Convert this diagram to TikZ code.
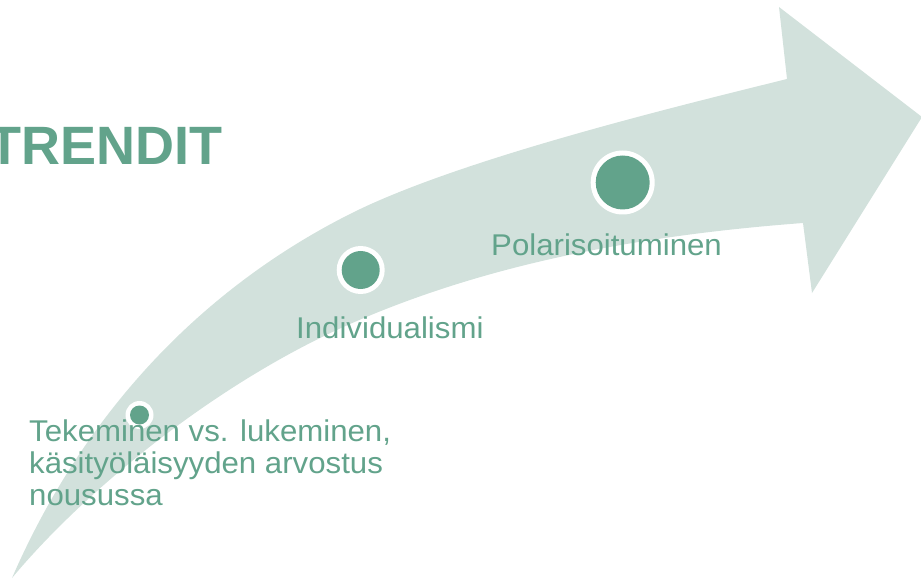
\documentclass[tikz,border=0pt]{standalone}
\usepackage{fontspec}
\setmainfont{Liberation Sans}
\newfontfamily\bodyfont[FakeStretch=1.04]{Liberation Sans}
\definecolor{arrowfill}{HTML}{D2E1DC}
\definecolor{dotfill}{HTML}{62A38B}
\definecolor{txtgreen}{HTML}{62A38B}
\tikzset{
  dotring/.style={circle, fill=white, inner sep=0pt},
  dotcore/.style={circle, fill=dotfill, inner sep=0pt},
  label text/.style={anchor=base west, inner sep=0pt, text=txtgreen, font=\bodyfont\fontsize{30}{32.4}\selectfont},
}
\begin{document}
\begin{tikzpicture}[x=1pt,y=-1pt]
\useasboundingbox (0,0) rectangle (921,580);
% big curved arrow
\coordinate (tail) at (12,578);
\coordinate (topmid) at (350,214);
\coordinate (topin) at (787,79);
\coordinate (barbtop) at (779,7);
\coordinate (tip) at (922,117);
\coordinate (barbbot) at (812,293);
\coordinate (botin) at (803,223);
\coordinate (botmid) at (350,324);
\fill[arrowfill]
  (tail) .. controls (84,412.4) and (202,288.5) .. (topmid)
         .. controls (457,160) and (670.6,107.8) .. (topin)
  -- (barbtop) -- (tip) -- (barbbot) -- (botin)
         .. controls (648.5,234.6) and (491.8,261.5) .. (botmid)
         .. controls (212.75,384.5) and (82.4,493.3) .. (tail)
  -- cycle;
% title
\node[anchor=base east, inner sep=0pt, text=txtgreen, font=\bfseries\fontsize{54}{60}\selectfont] (title) at (223,165) {TRENDIT};
% dots
\node[dotring, minimum size=28pt] (r1) at (139.5,415) {};
\node[dotcore, minimum size=19pt] (d1) at (r1) {};
\node[dotring, minimum size=48pt] (r2) at (360.7,270) {};
\node[dotcore, minimum size=38pt] (d2) at (r2) {};
\node[dotring, minimum size=64pt] (r3) at (622.7,182.5) {};
\node[dotcore, minimum size=54pt] (d3) at (r3) {};
% labels
\node[label text] (t1) at (29,441) {\bodyfont\fontsize{30}{32.4}\selectfont\begin{tabular}[t]{@{}l@{}}Tekeminen vs. lukeminen,\\käsityöläisyyden arvostus\\nousussa\end{tabular}};
\node[label text] (t2) at (296,338.5) {Individualismi};
\node[label text] (t3) at (491,255.5) {Polarisoituminen};
\end{tikzpicture}
\end{document}
